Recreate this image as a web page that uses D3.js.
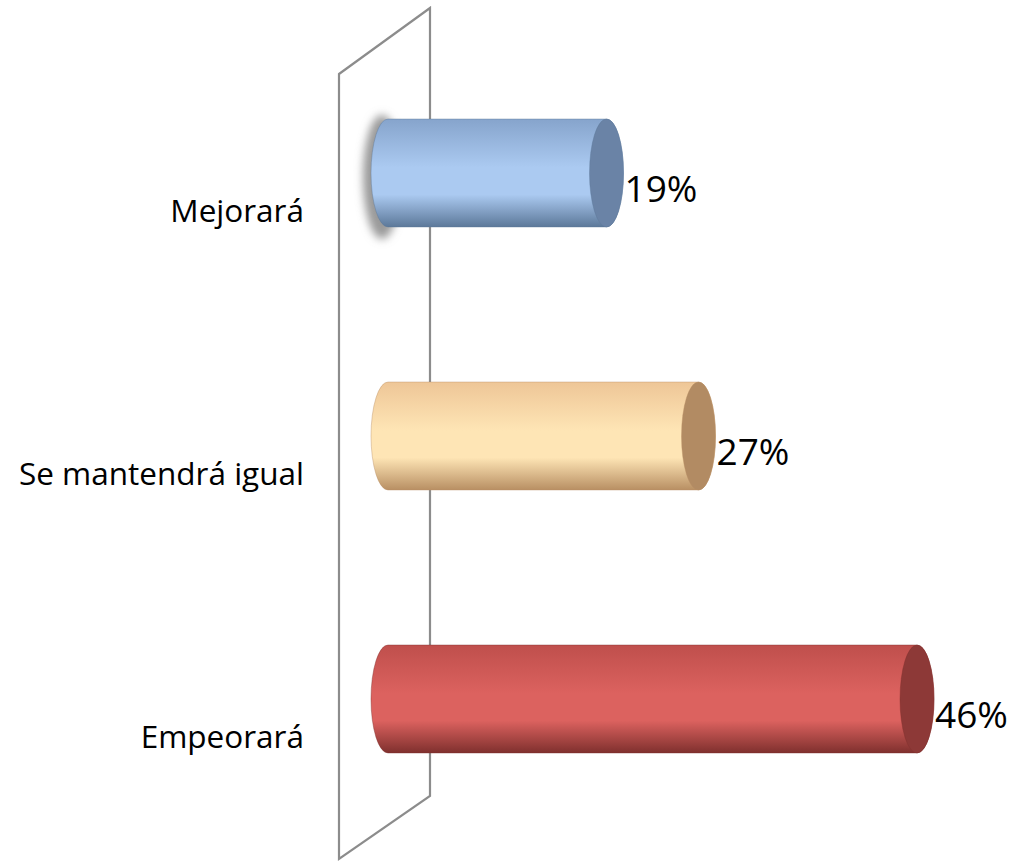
<!DOCTYPE html>
<html><head><meta charset="utf-8">
<script src="https://cdn.jsdelivr.net/npm/d3@7"></script>
<style>body{margin:0;background:#fff}svg{display:block}</style>
</head><body>
<script>
const categories = ["Mejorará", "Se mantendrá igual", "Empeorará"];
const values = [0.19, 0.27, 0.46];
const valueLabels = ["19%", "27%", "46%"];
const bodyColors = [
  {top:"#86a4cc", mid:"#abcaf1", bot:"#5c7899", cap:"#6a83a6"},
  {top:"#eec697", mid:"#fee5b5", bot:"#b88f63", cap:"#b28b63"},
  {top:"#bf4f4c", mid:"#dc625f", bot:"#7f302e", cap:"#8d3937"}
];

const W = 1017, H = 864;
const svg = d3.select("body").append("svg").attr("width", W).attr("height", H);
const defs = svg.append("defs");

const x = d3.scaleLinear().domain([0, 0.5]).range([388, 963]);
const y = d3.scalePoint().domain(categories).range([173, 699]);
const barH = 108, rx = 17;

// back wall
svg.append("path")
  .attr("d", "M339,74 L430,8 L430,796 L339,859 Z")
  .attr("fill", "none").attr("stroke", "#8c8c8c").attr("stroke-width", 2.2);

// gradients
bodyColors.forEach((c, i) => {
  const g = defs.append("linearGradient").attr("id", "g" + i)
    .attr("x1", 0).attr("y1", 0).attr("x2", 0).attr("y2", 1);
  g.append("stop").attr("offset", "0%").attr("stop-color", c.top);
  g.append("stop").attr("offset", "45%").attr("stop-color", c.mid);
  g.append("stop").attr("offset", "70%").attr("stop-color", c.mid);
  g.append("stop").attr("offset", "100%").attr("stop-color", c.bot);
});
const blur = defs.append("filter").attr("id", "blur").attr("x", "-1").attr("y", "-1").attr("width", 3).attr("height", 3);
blur.append("feGaussianBlur").attr("stdDeviation", 4);

// shadow on first bar
svg.append("ellipse")
  .attr("cx", x(0) - 6).attr("cy", y(categories[0]) + 4)
  .attr("rx", rx + 2).attr("ry", barH / 2 + 8)
  .attr("fill", "#9a9a9a").attr("filter", "url(#blur)");

const bars = svg.selectAll("g.bar").data(categories).join("g").attr("class", "bar");
bars.append("path")
  .attr("d", (d, i) => {
    const x0 = x(0), x1 = x(values[i]);
    const t = y(d) - barH / 2, b = y(d) + barH / 2, ry = barH / 2;
    return `M${x0},${t} L${x1},${t} A${rx},${ry} 0 0 1 ${x1},${b} L${x0},${b} A${rx},${ry} 0 0 1 ${x0},${t} Z`;
  })
  .attr("fill", (d, i) => `url(#g${i})`)
  .attr("stroke", (d, i) => bodyColors[i].bot).attr("stroke-opacity", 0.4).attr("stroke-width", 1);
bars.append("ellipse")
  .attr("cx", (d, i) => x(values[i])).attr("cy", d => y(d))
  .attr("rx", rx).attr("ry", barH / 2)
  .attr("fill", (d, i) => bodyColors[i].cap)
  .attr("stroke", (d, i) => bodyColors[i].bot).attr("stroke-opacity", 0.4).attr("stroke-width", 1);

// category labels
svg.selectAll("text.cat").data(categories).join("text").attr("class", "cat")
  .attr("x", 304).attr("y", d => y(d) + 49)
  .attr("text-anchor", "end")
  .attr("font-family", "'Open Sans', sans-serif").attr("font-size", 31.5)
  .attr("fill", "#000").text(d => d);

// value labels
svg.selectAll("text.val").data(categories).join("text").attr("class", "val")
  .attr("x", (d, i) => x(values[i]) + rx + 1).attr("y", d => y(d) + 29)
  .attr("font-family", "'Open Sans', sans-serif").attr("font-size", 37)
  .attr("fill", "#000").text((d, i) => valueLabels[i]);
</script>
</body></html>
